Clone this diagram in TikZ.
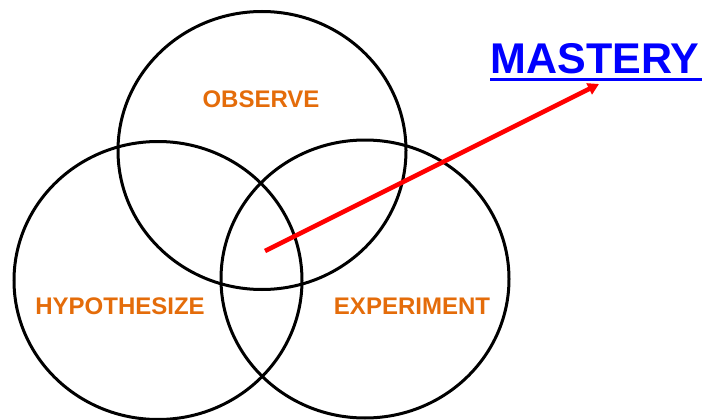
\documentclass[tikz,border=0pt]{standalone}
\usepackage{fontspec}
\setmainfont{Liberation Sans}
\usetikzlibrary{arrows.meta}
\definecolor{lblorange}{RGB}{228,108,10}
\definecolor{mblue}{RGB}{0,0,255}
\definecolor{ared}{RGB}{255,0,0}
\tikzset{
  ring/.style={draw=black, line width=3pt},
  lbl/.style={text=lblorange, font=\bfseries\fontsize{24}{24}\selectfont, inner sep=0pt},
}
\begin{document}
\begin{tikzpicture}[x=1pt,y=-1pt]
\useasboundingbox (0,0) rectangle (702,420);
\begin{scope}
\clip (0,0) rectangle (702,420);
\draw[ring] (262,150.5) ellipse [x radius=144, y radius=139];
\draw[ring] (158,280.5) ellipse [x radius=144, y radius=139];
\draw[ring] (365,279) ellipse [x radius=144, y radius=139];
\end{scope}
\node[lbl] (obs) at (261,99) {OBSERVE};
\node[lbl] (hyp) at (120,306) {HYPOTHESIZE};
\node[lbl] (exp) at (412,306) {EXPERIMENT};
\node[text=mblue, font=\bfseries\fontsize{43}{43}\selectfont, inner sep=0pt] (mas) at (595,59) {MASTERY};
\draw[mblue, line width=3pt] (490,79.3) -- (702,79.3);
\coordinate (start) at (265,251);
\coordinate (tip) at (599,84);
\draw[ared, line width=4.5pt, -{Triangle[length=11pt,width=12pt]}] (start) -- (tip);
\end{tikzpicture}
\end{document}
